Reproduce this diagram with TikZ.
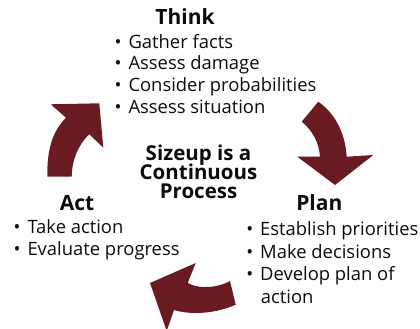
\documentclass[tikz,border=0pt]{standalone}
\usepackage{fontspec}
\setmainfont{Open Sans}
\definecolor{maroon}{RGB}{106,27,33}
\definecolor{ink}{RGB}{12,12,12}
\newcommand{\bul}{\textbullet\hspace{7pt}}
\tikzset{
  head/.style={inner sep=0pt, anchor=base, font=\bfseries\fontsize{21}{21}\selectfont, text=ink},
  mid/.style={inner sep=0pt, anchor=base, font=\bfseries\fontsize{20.5}{20.5}\selectfont, text=ink},
  item/.style={inner sep=0pt, anchor=base west, font=\fontsize{18.4}{18.4}\selectfont, text=ink},
  cyc/.style={fill=maroon, draw=none}
}
\begin{document}
\begin{tikzpicture}[x=1pt,y=-1pt]
\useasboundingbox (0,0) rectangle (420,329);
% Think
\node[head] (think) at (185,25) {Think};
\node[item] (t1) at (114.4,48.3) {\bul Gather facts};
\node[item] (t2) at (114.4,70) {\bul Assess damage};
\node[item] (t3) at (114.4,91.5) {\bul Consider probabilities};
\node[item] (t4) at (114.4,113) {\bul Assess situation};
% centre
\node[mid] (c1) at (198.5,160.7) {Sizeup is a};
\node[mid] (c2) at (198.5,179.5) {Continuous};
\node[mid] (c3) at (198.5,198.3) {Process};
% Act
\node[head] (act) at (77,210) {Act};
\node[item] (a1) at (13.4,233.3) {\bul Take action};
\node[item] (a2) at (13.4,255) {\bul Evaluate progress};
% Plan
\node[head] (plan) at (319.3,210.7) {Plan};
\node[item] (p1) at (246.1,235) {\bul Establish priorities};
\node[item] (p2) at (246.1,258.3) {\bul Make decisions};
\node[item] (p3) at (246.1,280.7) {\bul Develop plan of};
\node[item] (p4) at (260.7,303.3) {action};
% arrows
\fill[cyc] (47.3,176.7) -- (71.7,176.7) .. controls (72,160) and (78,145) .. (89.3,134.3)
  -- (103.3,147.7) -- (99.3,103.3) -- (50.7,104.3) -- (66,117.7)
  .. controls (52,132) and (47,150) .. (47.3,176.7) -- cycle;
\fill[cyc] (318.3,101.7) .. controls (333,112) and (345,130) .. (346.7,156.7)
  -- (373.3,155) -- (335,185) -- (297.3,156.7) -- (320,156.7)
  .. controls (319,142) and (312,130) .. (301.7,121.7) -- cycle;
\fill[cyc] (230,281) .. controls (220,287) and (200,290) .. (187.7,283)
  -- (195.7,263) -- (150,283) -- (166.7,331) -- (174,310)
  .. controls (190,315) and (215,314) .. (235.7,304.7) -- cycle;
\end{tikzpicture}
\end{document}
